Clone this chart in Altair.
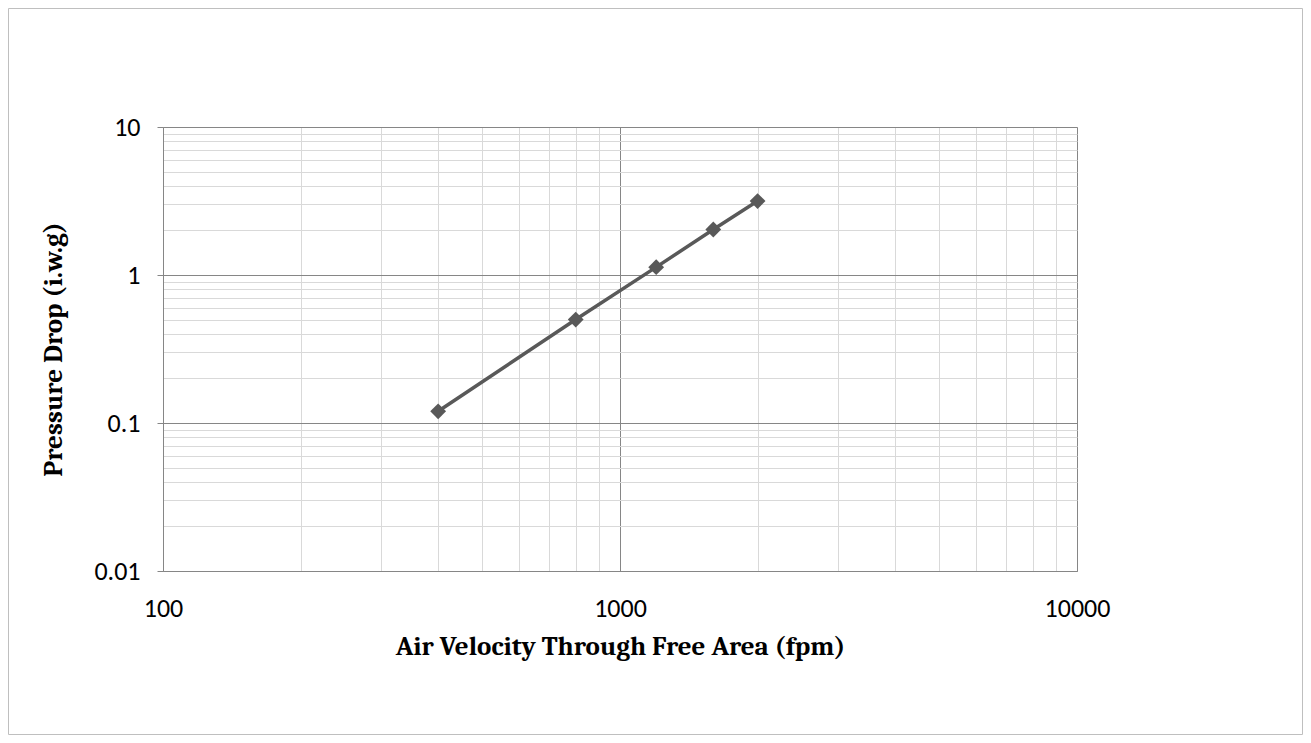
import altair as alt
import pandas as pd

# Data
velocity = [400, 800, 1200, 1600, 2000]
pressure = [0.12, 0.50, 1.13, 2.03, 3.16]

x_major = [100, 1000, 10000]
y_major = [0.01, 0.1, 1, 10]
x_ticks = [round(m * 10 ** e, 6) for e in (2, 3) for m in range(1, 10)] + [10000]
y_ticks = [round(m * 10 ** e, 6) for e in (-2, -1, 0) for m in range(1, 10)] + [10]

df = pd.DataFrame({"v": velocity, "p": pressure})

MAJOR = "#868686"
MINOR = "#d9d9d9"
SERIES = "#595959"
LABEL_FONT = "Carlito, Calibri, Lato, 'Open Sans', sans-serif"
TITLE_FONT = "Cambria, Caladea, 'DejaVu Serif', serif"
is_decade = "abs(log(datum.value)/LN10 - round(log(datum.value)/LN10)) < 1e-6"

W, H = 914, 444
PL, PT, PR, PB = 155, 119, 226, 164

x_enc = alt.X(
    "v:Q",
    scale=alt.Scale(type="log", domain=[100, 10000], nice=False),
    axis=alt.Axis(
        values=x_ticks,
        title="Air Velocity Through Free Area (fpm)",
        labelExpr=f"({is_decade}) ? '' + datum.value : ''",
        grid=True,
        gridColor={"condition": {"test": is_decade, "value": MAJOR}, "value": MINOR},
        gridWidth=1,
        ticks=False,
        tickSize=0,
        domainColor=MAJOR,
        labelPadding=24,
        labelFont=LABEL_FONT,
        labelFontSize=26,
        labelColor="#000000",
        labelFlush=False,
        labelOverlap=False,
        titleFont=TITLE_FONT,
        titleFontWeight="bold",
        titleFontSize=27,
        titleColor="#000000",
        titlePadding=12,
    ),
)
y_enc = alt.Y(
    "p:Q",
    scale=alt.Scale(type="log", domain=[0.01, 10], nice=False),
    axis=alt.Axis(
        values=y_ticks,
        title="Pressure Drop (i.w.g)",
        labelExpr=f"({is_decade}) ? '' + datum.value : ''",
        grid=True,
        gridColor={"condition": {"test": is_decade, "value": MAJOR}, "value": MINOR},
        gridWidth=1,
        ticks=True,
        tickSize=6,
        tickColor=MAJOR,
        tickOpacity={"condition": {"test": is_decade, "value": 1}, "value": 0},
        domainColor=MAJOR,
        labelPadding=17,
        labelFont=LABEL_FONT,
        labelFontSize=26,
        labelColor="#000000",
        labelFlush=False,
        labelOverlap=False,
        titleFont=TITLE_FONT,
        titleFontWeight="bold",
        titleFontSize=27,
        titleColor="#000000",
        titlePadding=26,
    ),
)

line = alt.Chart(df).mark_line(color=SERIES, strokeWidth=3.5).encode(x=x_enc, y=y_enc)
pts = alt.Chart(df).mark_point(
    shape="diamond", filled=True, color=SERIES, size=250, opacity=1
).encode(x="v:Q", y="p:Q")

frame = alt.Chart(pd.DataFrame({"a": [0]})).mark_rect(
    fill=None, stroke="#bfbfbf", strokeWidth=1
).encode(
    x=alt.value(-PL + 0.5), x2=alt.value(W + PR - 0.5),
    y=alt.value(-PT + 0.5), y2=alt.value(H + PB - 0.5),
)

chart = alt.layer(line, pts, frame).properties(
    width=W, height=H,
    autosize=alt.AutoSizeParams(type="none"),
    padding={"left": PL, "top": PT, "right": PR, "bottom": PB},
).configure_view(stroke=None).configure(background="white")

chart.save("out.html", embed_options={"renderer": "svg", "actions": False})
